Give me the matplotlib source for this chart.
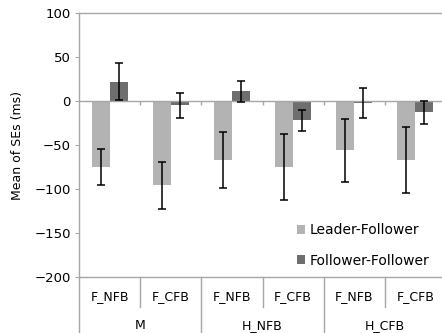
#!/usr/bin/env python

import numpy as np
import matplotlib
matplotlib.use('Agg')
import matplotlib.pyplot as plt
from matplotlib.transforms import blended_transform_factory

# data
conditions = ['F_NFB', 'F_CFB', 'F_NFB', 'F_CFB', 'F_NFB', 'F_CFB']
groups = ['M', 'H_NFB', 'H_CFB']
leader_follower = [-75, -96, -67, -75, -56, -67]
leader_follower_err = [21, 27, 32, 38, 36, 37]
follower_follower = [22, -5, 11, -22, -2, -13]
follower_follower_err = [21, 14, 12, 12, 17, 13]

LF_COLOR = '#b3b3b3'
FF_COLOR = '#6e6e6e'
AX_COLOR = '#a6a6a6'

plt.rcParams['font.family'] = ['DejaVu Sans']
plt.rcParams['font.size'] = 9

fig = plt.figure(figsize=(4.42, 3.33), dpi=100)
W, H = 442, 333
left_px, right_px, top_px, bottom_px = 79, 446, 13, 277
ax = fig.add_axes([left_px / W, (H - bottom_px) / H,
                   (right_px - left_px) / W, (bottom_px - top_px) / H])

x = np.arange(len(conditions))
width = 0.295
ax.bar(x - width / 2, leader_follower, width, color=LF_COLOR,
       label='Leader-Follower', zorder=2)
ax.bar(x + width / 2, follower_follower, width, color=FF_COLOR,
       label='Follower-Follower', zorder=2)
ax.errorbar(x - width / 2, leader_follower, yerr=leader_follower_err,
            fmt='none', ecolor='black', elinewidth=1.1, capsize=3,
            capthick=1.1, zorder=4)
ax.errorbar(x + width / 2, follower_follower, yerr=follower_follower_err,
            fmt='none', ecolor='black', elinewidth=1.1, capsize=3,
            capthick=1.1, zorder=4)

ax.set_xlim(-0.5, len(conditions) - 0.5)
ax.set_ylim(-200, 100)
ax.set_yticks(np.arange(-200, 101, 50))
ax.set_xticks([])
ax.tick_params(axis='y', length=3, color=AX_COLOR, pad=3, labelsize=9.5)
ax.set_ylabel('Mean of SEs (ms)', labelpad=7)

for side in ['left', 'top', 'bottom']:
    ax.spines[side].set_color(AX_COLOR)
    ax.spines[side].set_linewidth(1.0)
ax.spines['right'].set_visible(False)

# zero line with small category ticks
ax.axhline(0, color=AX_COLOR, linewidth=1.0, zorder=3)
bounds = np.arange(len(conditions) - 1) + 0.5
ax.vlines(bounds, -4, 0, color=AX_COLOR, linewidth=1.0, zorder=3)

# category table below the plot
trans = blended_transform_factory(ax.transData, ax.transAxes)
for i, label in enumerate(conditions):
    ax.text(i, -0.075, label, transform=trans, ha='center', va='center')
for g, label in enumerate(groups):
    ax.text(2 * g + 0.5, -0.185, label, transform=trans,
            ha='center', va='center')
for b in bounds:
    long_line = int(b + 0.5) % 2 == 0
    ax.plot([b, b], [0, -0.3 if long_line else -0.115], transform=trans,
            color=AX_COLOR, linewidth=1.0, clip_on=False)
ax.plot([-0.5, -0.5], [0, -0.3], transform=trans, color=AX_COLOR,
        linewidth=1.0, clip_on=False)

ax.legend(loc='lower right', bbox_to_anchor=(0.99, -0.012), frameon=False,
          handlelength=0.6, handleheight=0.6, handletextpad=0.35,
          labelspacing=1.2, fontsize=10)

fig.savefig('out.png', dpi=100)
